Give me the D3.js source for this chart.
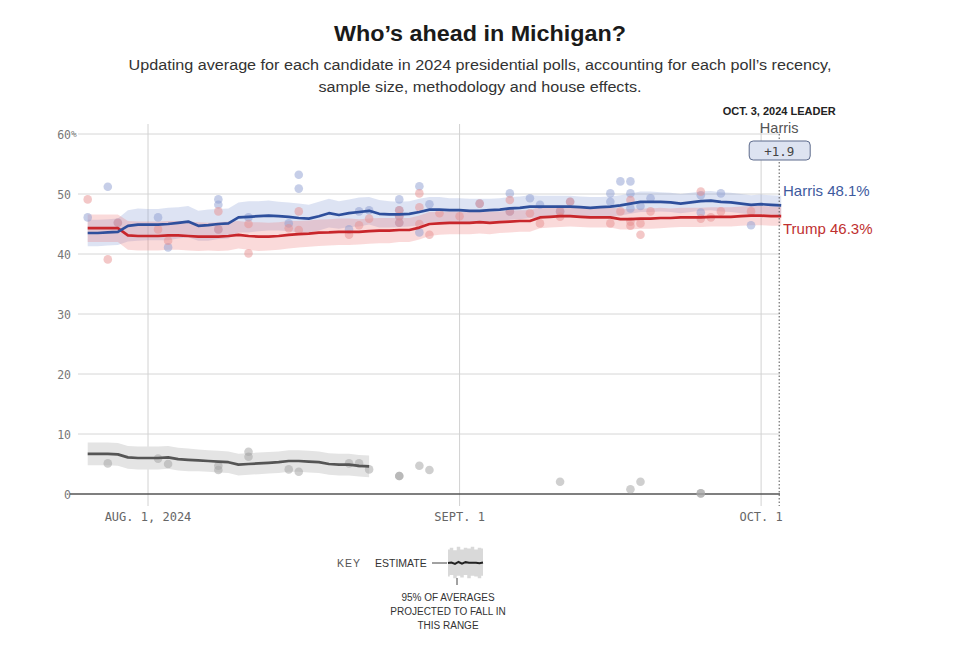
<!DOCTYPE html>
<html><head><meta charset="utf-8">
<script src="https://cdn.jsdelivr.net/npm/d3@7"></script>
<style>body{margin:0;background:#fff;} svg{display:block;font-family:"Liberation Sans",Arial,sans-serif}</style>
</head><body><svg id="c" width="960" height="645"></svg>
<script>
// ---------------- DATA ----------------
const startDate = "2024-07-26";
const endDate = "2024-10-03";
// daily averages, day 0 = Jul 26
const harrisAvg = [43.5,43.5,43.6,43.7,44.7,44.9,44.9,44.9,45.0,45.2,
  45.4,44.7,44.8,45.0,45.1,46.1,46.2,46.3,46.4,46.3,
  46.2,46.0,45.9,46.3,46.8,46.5,46.8,47.0,47.2,46.7,
  46.6,46.6,46.7,47.0,47.4,47.4,47.3,47.3,47.2,47.2,
  47.3,47.4,47.6,47.7,47.9,47.9,47.9,47.9,47.9,47.8,
  47.7,47.8,47.9,48.1,48.4,48.7,48.7,48.7,48.6,48.4,
  48.6,48.8,48.9,48.7,48.6,48.4,48.2,48.3,48.2,48.1];
const trumpAvg = [44.3,44.3,44.3,44.3,43.1,43.0,43.0,43.0,43.1,43.1,
  43.0,42.9,42.9,42.9,43.0,43.2,43.0,42.9,42.9,43.0,
  43.2,43.3,43.4,43.55,43.6,43.7,43.7,43.7,43.8,43.9,
  43.9,44.0,44.0,44.4,45.0,45.1,45.2,45.2,45.2,45.3,
  45.2,45.3,45.4,45.5,45.5,46.1,46.2,46.3,46.3,46.2,
  46.1,46.1,46.1,45.8,45.8,45.9,45.9,46.0,46.0,46.1,
  46.1,46.1,46.2,46.2,46.2,46.3,46.4,46.4,46.3,46.3];
const otherAvg = [6.7,6.7,6.7,6.6,6.1,6.0,6.0,6.0,6.1,5.8,
  5.7,5.6,5.5,5.4,5.3,4.9,5.0,5.1,5.2,5.3,
  5.5,5.5,5.4,5.3,5.0,4.9,4.9,4.7,4.6];
// half-width of the 95% range, per day
const harrisMargin = [2.2,2.2,2.2,2.2,2.6,2.7,2.6,2.6,2.7,2.6,
  2.6,2.5,2.6,2.5,2.5,2.5,2.6,2.5,2.5,2.4,
  2.4,2.4,2.3,2.4,2.4,2.3,2.3,2.4,2.3,2.3,
  2.2,2.1,2.1,2.2,2.1,2.1,2.0,2.0,2.0,2.0,
  1.9,1.9,1.9,1.9,1.9,1.8,1.8,1.8,1.8,1.8,
  1.8,1.7,1.7,1.7,1.7,1.7,1.7,1.6,1.6,1.6,
  1.6,1.6,1.6,1.6,1.6,1.6,1.6,1.6,1.6,1.6];
const trumpMargin = [2.3,2.3,2.3,2.3,2.4,2.4,2.4,2.4,2.4,2.4,
  2.4,2.4,2.3,2.4,2.4,2.3,2.3,2.4,2.3,2.3,
  2.3,2.2,2.2,2.2,2.2,2.2,2.2,2.1,2.1,2.1,
  2.1,2.0,2.0,2.0,2.0,1.9,1.9,1.9,1.9,1.9,
  1.9,1.8,1.8,1.8,1.8,1.8,1.8,1.8,1.7,1.7,
  1.7,1.7,1.7,1.7,1.7,1.7,1.7,1.7,1.6,1.6,
  1.6,1.6,1.6,1.6,1.6,1.6,1.6,1.6,1.6,1.6];
const otherMargin = [1.9,1.9,1.9,1.9,1.9,1.9,1.9,1.9,1.9,1.9,
  1.9,1.8,1.8,1.8,1.8,1.8,1.8,1.8,1.8,1.8,
  1.8,1.8,1.8,1.8,1.8,1.8,1.8,1.8,1.8];
// individual polls: [day index, value]
const harrisPolls = [[0,46.1],[2,51.2],[3,45.2],[7,46.1],[8,41.1],[13,49.1],[13,48.2],[13,44.1],
  [16,46.1],[20,45.1],[21,53.2],[21,50.9],[26,44.1],[27,47.1],[28,47.3],[31,49.1],[31,47.3],
  [31,46.3],[31,45.2],[33,51.3],[33,43.6],[34,48.3],[39,48.4],[42,50.1],[42,47.1],[44,49.3],
  [45,48.2],[47,47.1],[48,48.7],[52,50.1],[52,48.7],[53,52.1],[54,52.1],[54,50.1],[54,47.6],
  [55,48.0],[56,49.3],[61,49.8],[61,46.9],[63,50.1],[66,44.8]];
const trumpPolls = [[0,49.1],[2,39.1],[3,45.2],[7,44.1],[8,42.2],[13,47.1],[13,44.1],[16,45.0],
  [16,40.1],[20,44.3],[21,47.1],[21,44.0],[26,43.2],[27,44.8],[28,45.9],[31,47.3],[31,46.3],
  [31,45.2],[33,50.1],[33,47.8],[33,45.0],[34,43.2],[35,46.8],[37,46.3],[39,48.4],[42,49.0],
  [42,47.1],[44,46.8],[45,45.1],[47,47.1],[47,46.2],[48,48.7],[52,45.1],[53,47.1],[54,49.0],
  [54,45.4],[54,44.7],[55,45.1],[55,43.2],[56,47.1],[61,50.4],[61,45.9],[62,46.1],[63,47.1],[66,47.1]];
const otherPolls = [[2,5.1],[7,5.9],[8,5.0],[13,4.7],[13,4.0],[16,7.05],[16,6.2],[20,4.1],[21,3.7],
  [26,5.1],[27,5.1],[28,4.1],[31,3.0],[31,3.0],[33,4.7],[34,4.0],[47,2.05],[54,0.8],[55,2.05],[61,0.1],[61,0.1]];
const yTicks = [0,10,20,30,40,50,60];
const xTickDates = ["2024-08-01","2024-09-01","2024-10-01"];
const xTickLabels = ["AUG. 1, 2024","SEPT. 1","OCT. 1"];
const endLabels = ["Harris 48.1%","Trump 46.3%"];
const leaderDate = "OCT. 3, 2024 LEADER";
const leaderName = "Harris";
const leaderMargin = "+1.9";
// legend glyph
const keyEstimate = [0,0.3,-0.5,0.6,-0.4,0.5,0.1,0.2,0.1,-0.2,0.3];
const keyUpper = [8,9,7.5,9.5,8,9,8.5,9.5,8,9,8.5];
const keyLower = [-8,-7,-9,-7.5,-8.5,-7,-9,-7.5,-8,-9,-7.5];

// ---------------- CHART ----------------
const svg = d3.select("#c");
const parse = d3.utcParse("%Y-%m-%d");
const t0 = parse(startDate);
const dayDate = i => d3.utcDay.offset(t0, i);
const x = d3.scaleUtc().domain([t0, parse(endDate)]).range([87.7, 781.2]);
const y = d3.scaleLinear().domain([0, 60]).range([494, 134]);

// title
svg.append("text").attr("x",480).attr("y",41).attr("text-anchor","middle")
  .attr("font-size",22).attr("font-weight","bold").attr("fill","#1a1a1a")
  .attr("textLength",292).attr("lengthAdjust","spacingAndGlyphs")
  .text("Who’s ahead in Michigan?");
svg.append("text").attr("x",480).attr("y",70).attr("text-anchor","middle")
  .attr("font-size",15.5).attr("fill","#333")
  .attr("textLength",703).attr("lengthAdjust","spacingAndGlyphs")
  .text("Updating average for each candidate in 2024 presidential polls, accounting for each poll’s recency,");
svg.append("text").attr("x",480).attr("y",92).attr("text-anchor","middle")
  .attr("font-size",15.5).attr("fill","#333")
  .attr("textLength",323).attr("lengthAdjust","spacingAndGlyphs")
  .text("sample size, methodology and house effects.");

// grid
const g = svg.append("g");
g.selectAll(".hg").data(yTicks.filter(d=>d>0)).join("line")
  .attr("x1",78).attr("x2",780).attr("y1",d=>y(d)).attr("y2",d=>y(d))
  .attr("stroke","#d6d6d6").attr("stroke-width",1);
g.selectAll(".vg").data(xTickDates).join("line")
  .attr("x1",d=>x(parse(d))).attr("x2",d=>x(parse(d)))
  .attr("y1",124).attr("y2",506).attr("stroke","#d2d2d2").attr("stroke-width",1);

// y labels
const mono = "'DejaVu Sans Mono', monospace";
g.selectAll(".yl").data(yTicks).join("text")
  .attr("x",71).attr("y",d=>y(d)+4.5).attr("text-anchor","end")
  .attr("font-family",mono).attr("font-size",11.5).attr("fill","#777")
  .text(d=>d);
g.append("text").attr("x",71).attr("y",y(60)+3).attr("font-family",mono)
  .attr("font-size",9.5).attr("fill","#777").text("%");

// x labels
g.selectAll(".xl").data(xTickDates).join("text")
  .attr("x",d=>x(parse(d))).attr("y",521).attr("text-anchor","middle")
  .attr("font-family",mono).attr("font-size",12).attr("fill","#666")
  .text((d,i)=>xTickLabels[i]);

// bands
function band(vals, margins){
  return d3.area().x((d,i)=>x(dayDate(i))).y0((d,i)=>y(vals[i]-margins[i])).y1((d,i)=>y(vals[i]+margins[i]))(vals);
}
svg.append("path").attr("d",band(otherAvg,otherMargin)).attr("fill","#e4e4e4");
svg.append("path").attr("d",band(harrisAvg,harrisMargin)).attr("fill","rgb(130,150,210)").attr("fill-opacity",0.27);
svg.append("path").attr("d",band(trumpAvg,trumpMargin)).attr("fill","rgb(238,120,120)").attr("fill-opacity",0.27);

// zero line
svg.append("line").attr("x1",70).attr("x2",780).attr("y1",y(0)).attr("y2",y(0))
  .attr("stroke","#555").attr("stroke-width",1.3);

// dots
function dots(data, color, op){
  svg.append("g").selectAll("circle").data(data).join("circle")
    .attr("cx",d=>x(dayDate(d[0]))).attr("cy",d=>y(d[1])).attr("r",4.3)
    .attr("fill",color).attr("fill-opacity",op);
}
dots(otherPolls,"#a8a8a8",0.55);
dots(harrisPolls,"#8d9dd2",0.5);
dots(trumpPolls,"#e88f8f",0.5);

// lines
function line(vals, color){
  svg.append("path").attr("d",d3.line().x((d,i)=>x(dayDate(i))).y(d=>y(d))(vals))
    .attr("fill","none").attr("stroke",color).attr("stroke-width",2.7).attr("stroke-linejoin","round");
}
line(otherAvg,"#555");
line(trumpAvg,"#c8262b");
line(harrisAvg,"#2e4f9c");

// dotted end line
const xe = x(parse(endDate)) - 2;
svg.append("line").attr("x1",xe).attr("x2",xe).attr("y1",134).attr("y2",506)
  .attr("stroke","#555").attr("stroke-width",1).attr("stroke-dasharray","1.5,2");

// end labels
svg.append("text").attr("x",783).attr("y",196)
  .attr("font-size",15).attr("fill","#3d5a9e").text(endLabels[0]);
svg.append("text").attr("x",783).attr("y",234)
  .attr("font-size",15).attr("fill","#c0302f").text(endLabels[1]);

// leader box
svg.append("text").attr("x",xe).attr("y",115).attr("text-anchor","middle")
  .attr("font-size",11).attr("font-weight","bold").attr("fill","#222").text(leaderDate);
svg.append("text").attr("x",xe).attr("y",133).attr("text-anchor","middle")
  .attr("font-size",14.5).attr("fill","#555").text(leaderName);
svg.append("rect").attr("x",xe-30).attr("y",141).attr("width",61).attr("height",19).attr("rx",4)
  .attr("fill","#dde3f1").attr("stroke","#5d6b8c").attr("stroke-width",1);
svg.append("text").attr("x",xe).attr("y",155.5).attr("text-anchor","middle")
  .attr("font-family",mono).attr("font-size",12.5).attr("fill","#444").text(leaderMargin);

// key
const kx = d3.scaleLinear().domain([0, keyEstimate.length-1]).range([448,483]);
const ky = d3.scaleLinear().domain([-10,10]).range([580,546]);
svg.append("text").attr("x",337).attr("y",567).attr("font-size",10.5).attr("fill","#555")
  .attr("letter-spacing",1).text("KEY");
svg.append("text").attr("x",375).attr("y",567).attr("font-size",10.5).attr("fill","#333").text("ESTIMATE");
svg.append("line").attr("x1",432).attr("x2",447).attr("y1",563).attr("y2",563).attr("stroke","#444");
svg.append("path").attr("d",d3.area().x((d,i)=>kx(i)).y0((d,i)=>ky(keyLower[i])).y1((d,i)=>ky(keyUpper[i])).curve(d3.curveStep)(keyEstimate))
  .attr("fill","#d9d9d9");
svg.append("path").attr("d",d3.line().x((d,i)=>kx(i)).y(d=>ky(d))(keyEstimate))
  .attr("fill","none").attr("stroke","#222").attr("stroke-width",2);
svg.append("line").attr("x1",457).attr("x2",457).attr("y1",578).attr("y2",585).attr("stroke","#444");
["95% OF AVERAGES","PROJECTED TO FALL IN","THIS RANGE"].forEach((t,i)=>{
  svg.append("text").attr("x",448).attr("y",601+i*14).attr("text-anchor","middle")
    .attr("font-size",10).attr("fill","#333").text(t);
});
</script></body></html>
